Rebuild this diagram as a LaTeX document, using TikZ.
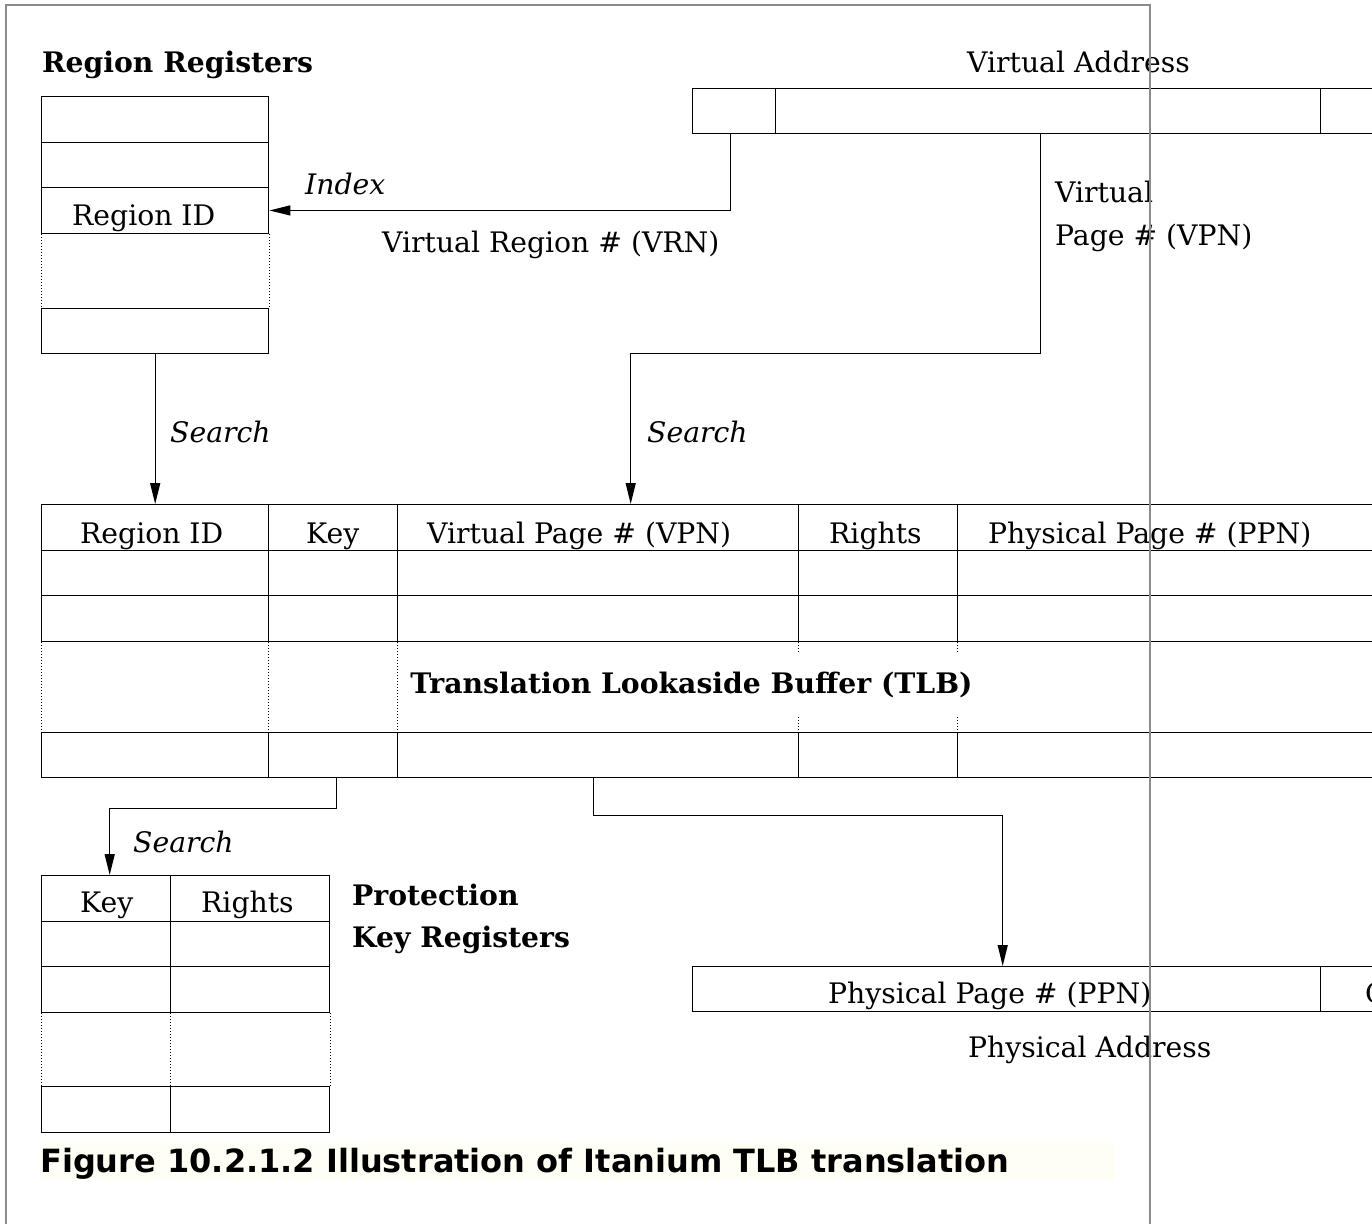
\documentclass[tikz,border=0pt]{standalone}
\usepackage{fontspec}
\setmainfont{DejaVu Serif}
\newfontfamily\captionfont{DejaVu Sans}
\usetikzlibrary{arrows.meta}
\definecolor{captionbg}{RGB}{255,254,244}

\begin{document}
\begin{tikzpicture}[
x=1pt,y=-1pt,
>={Triangle[length=21pt,width=10pt]},
every node/.style={font=\fontsize{28.25}{32}\selectfont,inner sep=0pt},
cell/.style={draw,line width=1.4pt,minimum height=45.5pt,anchor=north west},
txt/.style={anchor=base west},
link/.style={->,line width=1.4pt},
dotline/.style={dotted,line width=1pt},
pageframe/.style={draw=black!45,line width=2pt}
]
\useasboundingbox (0,0) rectangle (1372,1223);
\clip (0,0) rectangle (1372,1223);

% Region Registers
\node[txt,font=\fontsize{28.25}{32}\selectfont\bfseries] (rrtitle) at (42,73) {Region Registers};
\node[cell,minimum width=227pt] (rr1) at (41,96) {};
\node[cell,minimum width=227pt] (rr2) at (41,141.5) {};
\node[cell,minimum width=227pt] (rr3) at (41,187) {};
\node[cell,minimum width=227pt] (rr4) at (41,307.5) {};
\node[txt] (rrid) at (72,225) {Region ID};
\draw[dotline] (rr3.south west) -- (rr4.north west);
\draw[dotline] (rr3.south east) -- (rr4.north east);

% Virtual Address
\node[txt] (vatitle) at (967,73) {Virtual Address};
\node[cell,minimum width=83pt,minimum height=45pt] (vavrn) at (692,88) {};
\node[cell,minimum width=545pt,minimum height=45pt] (vavpn) at (775,88) {};
\node[cell,minimum width=200pt,minimum height=45pt] (vaoff) at (1320,88) {};

% TLB
\foreach \r/\y in {1/504,2/549.5,3/595,4/731.5}{
  \node[cell,minimum width=227pt] (tlbrid\r) at (41,\y) {};
  \node[cell,minimum width=129pt] (tlbkey\r) at (268,\y) {};
  \node[cell,minimum width=401pt] (tlbvpn\r) at (397,\y) {};
  \node[cell,minimum width=159pt] (tlbrgt\r) at (798,\y) {};
  \node[cell,minimum width=543pt] (tlbppn\r) at (957,\y) {};
}
\foreach \c in {rid,key,vpn,rgt,ppn}
  \draw[dotline] (tlb\c3.south west) -- (tlb\c4.north west);
\node[txt] (hrid) at (80,543) {Region ID};
\node[txt] (hkey) at (306,543) {Key};
\node[txt] (hvpn) at (427,543) {Virtual Page \# (VPN)};
\node[txt] (hrgt) at (829,543) {Rights};
\node[txt] (hppn) at (988,543) {Physical Page \# (PPN)};
\node[anchor=base,fill=white,inner xsep=8pt,inner ysep=19pt,
  font=\fontsize{28.25}{32}\selectfont\bfseries] (tlbtitle) at (691.5,693)
  {Translation Lookaside Buffer (TLB)};

% Protection Key Registers
\foreach \r/\y in {1/875,2/920.5,3/966,4/1086}{
  \node[cell,minimum width=129pt] (pkkey\r) at (41,\y) {};
  \node[cell,minimum width=159pt] (pkrgt\r) at (170,\y) {};
}
\draw[dotline] (pkkey3.south west) -- (pkkey4.north west);
\draw[dotline] (pkrgt3.south west) -- (pkrgt4.north west);
\draw[dotline] (pkrgt3.south east) -- (pkrgt4.north east);
\node[txt] (pkhkey) at (80,912) {Key};
\node[txt] (pkhrgt) at (201,912) {Rights};
\node[txt,font=\fontsize{28.25}{32}\selectfont\bfseries] (pktitle1) at (352,905) {Protection};
\node[txt,font=\fontsize{28.25}{32}\selectfont\bfseries] (pktitle2) at (352,947) {Key Registers};

% Physical Address
\node[cell,minimum width=628pt,minimum height=45pt] (pappn) at (692,966) {};
\node[cell,minimum width=200pt,minimum height=45pt] (paoff) at (1320,966) {};
\node[txt] (pappntext) at (828,1003) {Physical Page \# (PPN)};
\node[txt] (paofftext) at (1365,1003) {Offset};
\node[txt] (patitle) at (968,1057) {Physical Address};

% Connectors
\draw[link] ([xshift=-3.5pt]vavrn.south) |- (rr3.east);
\node[txt,font=\fontsize{28.25}{32}\selectfont\itshape] (index) at (305,194) {Index};
\node[txt] (vrn) at (382,252) {Virtual Region \# (VRN)};

\draw[link] ([xshift=-7.5pt]vavpn.south) -- ++(0,219) -| ([xshift=32.5pt]tlbvpn1.north);
\node[txt] (vpn1) at (1055,202) {Virtual};
\node[txt] (vpn2) at (1055,245) {Page \# (VPN)};

\draw[link] (rr4.south) -- (tlbrid1.north);
\node[txt,font=\fontsize{28.25}{32}\selectfont\itshape] (search1) at (170,442) {Search};
\node[txt,font=\fontsize{28.25}{32}\selectfont\itshape] (search2) at (647,442) {Search};

\draw[link] ([xshift=3.5pt]tlbkey4.south) -- ++(0,30) -| ([xshift=3.5pt]pkkey1.north);
\node[txt,font=\fontsize{28.25}{32}\selectfont\itshape] (search3) at (133,852) {Search};

\draw[link] ([xshift=-4.5pt]tlbvpn4.south) -- ++(0,37) -| ([xshift=-4pt]pappn.north);

% Caption
\fill[captionbg] (40,1142) rectangle (1115,1180);
\node[txt,font=\fontsize{32}{36}\selectfont\captionfont\bfseries] (caption) at (40,1172)
  {Figure 10.2.1.2 Illustration of Itanium TLB translation};

% Page frame
\draw[pageframe] (6,1230) -- (6,5) -- (1150,5) -- (1150,1230);

\end{tikzpicture}
\end{document}
